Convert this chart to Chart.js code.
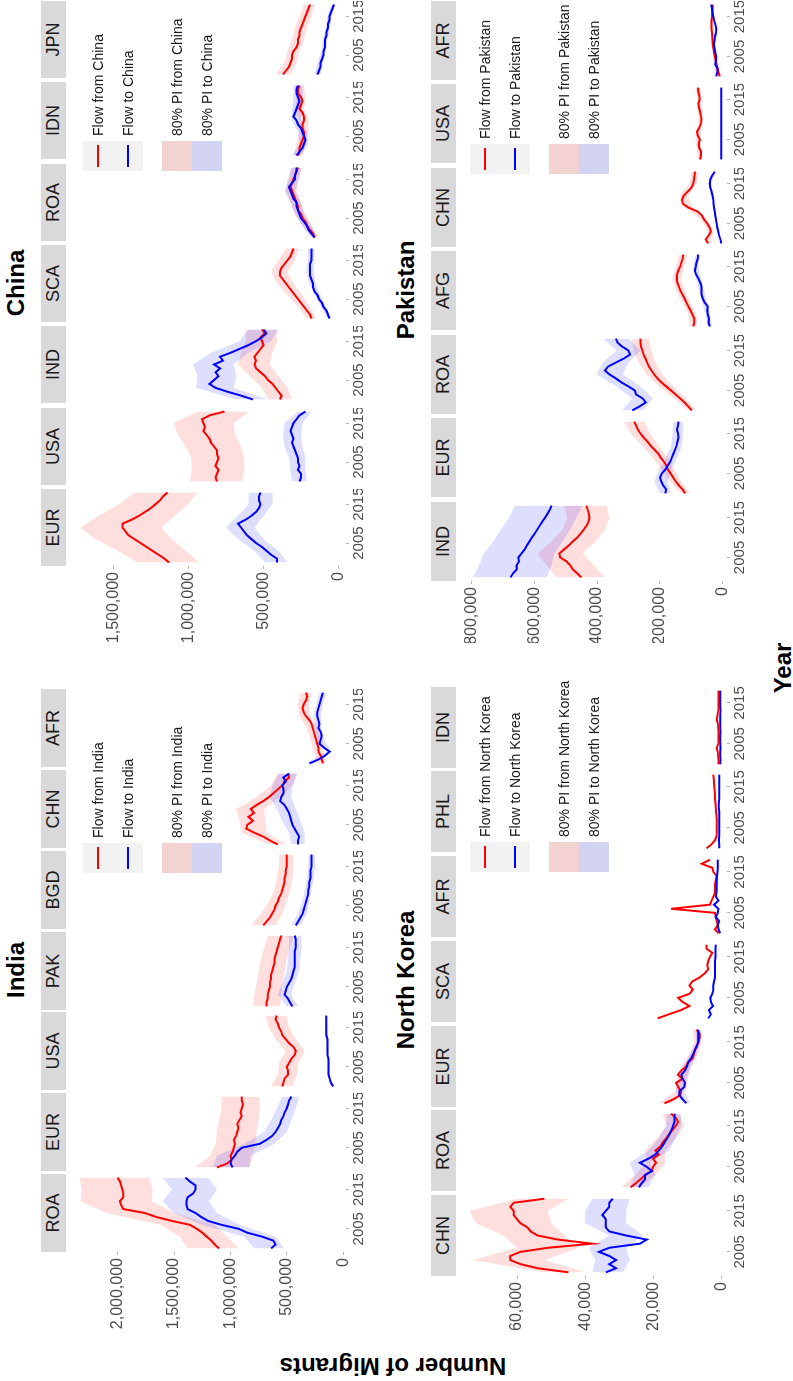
<!DOCTYPE html>
<html>
<head>
<meta charset="utf-8">
<script src="https://cdn.jsdelivr.net/npm/chart.js@4.4.1/dist/chart.umd.min.js"></script>
<style>
  html, body { margin: 0; padding: 0; background: #fff; }
  body { width: 793px; height: 1381px; overflow: hidden; position: relative; }
  /* the figure is laid out landscape and turned a quarter left */
  #fig { position: absolute; left: 0; top: 0; width: 1381px; height: 793px;
         transform-origin: 0 0; transform: translate(0px, 1381px) rotate(-90deg);
         font-family: "Liberation Sans", Arial, sans-serif; }
  .strip { position: absolute; background: #d9d9d9; color: #1a1a1a; font-size: 18px; text-align: center; }
  .title { position: absolute; font-weight: bold; font-size: 24px; color: #000; white-space: nowrap; transform: translate(-50%, -50%); }
  .axtitle { position: absolute; font-weight: bold; font-size: 24px; color: #000; white-space: nowrap; }
  .key { position: absolute; }
  .ltext { position: absolute; font-size: 14px; color: #1a1a1a; white-space: nowrap; }
</style>
</head>
<body>
<div id="fig"></div>
<script>
// years of the series, and the years where the 80% PI edges are read
const years = [2000, 2001, 2002, 2003, 2004, 2005, 2006, 2007, 2008, 2009, 2010, 2011, 2012, 2013, 2014, 2015, 2016, 2017, 2018];
const piYears = [2000, 2003, 2006, 2009, 2012, 2015, 2018];
const yearTicks = [2005, 2015];

// all values in thousands of migrants
// India
const indiaFacets = ['ROA', 'EUR', 'USA', 'PAK', 'BGD', 'CHN', 'AFR'];
const indiaTicks = [0, 500, 1000, 1500, 2000];
const indiaFrom = [
  [1100, 1140, 1170, 1210, 1250, 1300, 1360, 1520, 1660, 1760, 1950, 1970, 1980, 1950, 1950, 1960, 1970, 1980, 2000],
  [1120, 1030, 990, 1000, 980, 970, 960, 970, 950, 940, 930, 940, 920, 900, 910, 900, 890, 900, 900],
  [540, 530, 520, 490, 490, 500, 480, 460, 430, 420, 440, 480, 510, 540, 550, 570, 580, 600, 590],
  [680, 680, 670, 670, 660, 650, 650, 640, 640, 630, 620, 610, 610, 600, 590, 580, 570, 560, 550],
  [710, 680, 650, 630, 610, 600, 580, 570, 550, 540, 530, 520, 520, 510, 510, 500, 500, 500, 500],
  [580, 650, 710, 790, 860, 850, 800, 840, 790, 820, 770, 710, 660, 620, 580, 540, 520, 480, 490],
  [180, 190, 200, 220, 220, 230, 240, 250, 260, 270, 280, 300, 330, 350, 360, 350, 330, 320, 330]
];
const indiaTo = [
  [640, 600, 620, 720, 850, 930, 1080, 1200, 1260, 1310, 1380, 1390, 1390, 1380, 1330, 1310, 1310, 1360, 1400],
  [980, 1000, 990, 960, 940, 900, 740, 680, 630, 600, 580, 560, 550, 530, 520, 500, 490, 480, 460],
  [90, 110, 120, 130, 130, 130, 130, 130, 140, 140, 140, 140, 140, 150, 150, 150, 150, 150, 150],
  [450, 470, 490, 520, 510, 500, 480, 460, 450, 440, 430, 430, 430, 430, 430, 420, 420, 420, 430],
  [420, 400, 380, 360, 350, 340, 330, 320, 310, 310, 300, 300, 290, 290, 290, 280, 280, 280, 280],
  [400, 400, 390, 410, 430, 450, 460, 470, 480, 500, 520, 560, 550, 530, 530, 540, 510, 530, 480],
  [300, 220, 160, 120, 170, 210, 200, 190, 200, 220, 210, 220, 230, 230, 220, 210, 200, 190, 180]
];
const indiaFromLo = [
  [930, 1030, 1140, 1500, 1700, 1690, 1720],
  [830, 800, 780, 770, 750, 740, 740],
  [450, 410, 400, 340, 420, 480, 500],
  [560, 550, 540, 520, 500, 470, 440],
  [600, 540, 500, 470, 450, 440, 440],
  [500, 680, 690, 700, 560, 450, 410],
  [150, 180, 200, 230, 290, 300, 280]
];
const indiaFromHi = [
  [1380, 1450, 1620, 2100, 2330, 2320, 2340],
  [1320, 1180, 1130, 1120, 1100, 1080, 1080],
  [640, 580, 570, 510, 600, 660, 690],
  [800, 790, 770, 750, 730, 700, 670],
  [820, 730, 660, 610, 590, 570, 570],
  [660, 900, 920, 950, 770, 640, 580],
  [220, 260, 290, 320, 390, 400, 380]
];
const indiaToLo = [
  [520, 600, 920, 1120, 1190, 1120, 1200],
  [830, 820, 610, 500, 460, 420, 390],
  [80, 120, 120, 130, 130, 140, 140],
  [400, 460, 430, 390, 380, 370, 370],
  [380, 320, 300, 280, 260, 250, 250],
  [340, 340, 380, 420, 460, 450, 400],
  [270, 100, 170, 190, 200, 180, 150]
];
const indiaToHi = [
  [790, 880, 1260, 1500, 1600, 1520, 1600],
  [1160, 1120, 880, 700, 640, 590, 540],
  [100, 140, 140, 150, 150, 160, 160],
  [500, 580, 540, 500, 490, 480, 480],
  [460, 400, 360, 340, 320, 310, 310],
  [460, 480, 540, 590, 650, 630, 570],
  [330, 150, 230, 250, 260, 240, 210]
];

// China
const chinaFacets = ['EUR', 'USA', 'IND', 'SCA', 'ROA', 'IDN', 'JPN'];
const chinaTicks = [0, 500, 1000, 1500];
const chinaFrom = [
  [1130, 1160, 1200, 1240, 1280, 1320, 1360, 1400, 1420, 1440, 1440, 1380, 1330, 1290, 1250, 1220, 1190, 1170, 1140],
  [810, 820, 810, 800, 820, 810, 800, 810, 810, 830, 850, 860, 880, 900, 890, 900, 910, 860, 760],
  [390, 380, 400, 420, 440, 470, 490, 520, 550, 560, 550, 560, 540, 520, 500, 510, 520, 490, 510],
  [180, 190, 210, 230, 250, 270, 290, 310, 330, 350, 370, 390, 390, 380, 360, 340, 320, 310, 300],
  [160, 170, 190, 210, 220, 240, 250, 270, 270, 280, 290, 300, 310, 320, 310, 300, 290, 280, 270],
  [270, 260, 260, 250, 240, 230, 230, 240, 240, 230, 230, 240, 260, 250, 240, 250, 270, 270, 260],
  [370, 350, 330, 320, 310, 310, 300, 280, 270, 270, 260, 260, 250, 240, 230, 220, 210, 200, 190]
];
const chinaTo = [
  [410, 410, 450, 480, 510, 550, 580, 610, 630, 650, 670, 620, 580, 550, 530, 520, 530, 530, 520],
  [260, 250, 250, 270, 260, 270, 270, 280, 290, 300, 310, 300, 310, 320, 310, 300, 280, 260, 220],
  [570, 650, 740, 820, 860, 830, 800, 820, 790, 830, 770, 790, 720, 660, 600, 550, 510, 480, 500],
  [60, 70, 80, 100, 110, 130, 140, 160, 170, 170, 180, 190, 190, 190, 190, 180, 180, 180, 180],
  [160, 180, 200, 210, 230, 250, 260, 270, 280, 280, 300, 310, 320, 330, 310, 290, 290, 280, 280],
  [280, 260, 240, 230, 220, 230, 240, 250, 270, 280, 300, 290, 280, 270, 260, 270, 280, 280, 270],
  [140, 130, 120, 120, 110, 100, 100, 90, 90, 90, 80, 80, 70, 70, 60, 60, 50, 40, 30]
];
const chinaFromLo = [
  [930, 1020, 1110, 1180, 1090, 1000, 940],
  [640, 630, 630, 650, 690, 700, 590],
  [310, 340, 400, 460, 440, 410, 410],
  [150, 190, 240, 300, 340, 290, 260],
  [140, 180, 220, 250, 280, 270, 240],
  [240, 220, 200, 200, 230, 220, 230],
  [320, 280, 260, 230, 210, 180, 160]
];
const chinaFromHi = [
  [1340, 1470, 1620, 1720, 1600, 1460, 1360],
  [990, 980, 980, 1020, 1070, 1100, 940],
  [470, 510, 590, 670, 650, 620, 620],
  [210, 270, 340, 410, 450, 400, 350],
  [180, 240, 290, 320, 350, 340, 310],
  [300, 280, 260, 260, 290, 280, 290],
  [420, 360, 340, 310, 290, 260, 230]
];
const chinaToLo = [
  [340, 400, 500, 560, 500, 440, 440],
  [210, 220, 220, 240, 250, 240, 180],
  [470, 700, 680, 700, 600, 450, 400],
  [50, 85, 120, 150, 165, 160, 160],
  [140, 180, 230, 250, 290, 260, 250],
  [250, 200, 210, 250, 250, 240, 240],
  [120, 100, 85, 75, 55, 45, 20]
];
const chinaToHi = [
  [490, 560, 670, 750, 670, 600, 600],
  [310, 320, 330, 360, 370, 360, 270],
  [680, 950, 940, 970, 850, 660, 600],
  [75, 115, 160, 195, 215, 205, 205],
  [180, 240, 290, 320, 360, 330, 320],
  [310, 260, 270, 310, 310, 300, 300],
  [160, 140, 115, 105, 85, 75, 45]
];

// North Korea
const nkFacets = ['CHN', 'ROA', 'EUR', 'SCA', 'AFR', 'PHL', 'IDN'];
const nkTicks = [0, 20, 40, 60];
const nkFrom = [
  [45, 54, 59, 62, 62, 59, 51, 38, 48, 54, 56, 57, 59, 60, 61, 61, 62, 61, 52],
  [26.7, 25.2, 23.8, 22.5, 20.5, 20.2, 19.3, 20.2, 18.5, 19.5, 18.0, 17.3, 16.3, 15.5, 14.5, 13.5, 12.8, 13.5, 14.9],
  [16.8, 14.2, 12.2, 12.0, 12.8, 13.4, 11.5, 12.9, 11.9, 10.5, 9.9, 8.6, 8.2, 7.9, 7.3, 6.9, 6.5, 6.5, 7.4],
  [18.8, 15.5, 12.0, 9.5, 11.5, 12.8, 9.5, 8.5, 9.5, 8.7, 6.5, 5.0, 4.0, 4.3, 4.0, 3.5, 2.8, 4.5, 4.5],
  [1.0, 2.0, 1.2, 1.5, 1.8, 2.0, 14.9, 3.5, 3.0, 2.5, 2.0, 2.0, 2.0, 1.8, 1.5, 2.5, 2.8, 5.9, 3.5],
  [4.5, 3.0, 2.0, 1.6, 1.5, 1.5, 1.5, 1.5, 1.6, 1.7, 1.8, 1.9, 2.0, 2.0, 2.1, 2.2, 2.3, 2.4, 2.5],
  [1.0, 1.0, 1.1, 1.2, 1.5, 1.1, 1.0, 1.0, 1.0, 1.1, 1.2, 1.5, 1.3, 1.1, 1.0, 1.0, 1.0, 1.0, 1.0]
];
const nkTo = [
  [34, 31, 33, 31, 33, 36, 33, 24, 22, 28, 33, 34, 34, 34, 35, 34, 33, 33, 32],
  [24.3, 23.5, 22.5, 22.5, 20.5, 22.0, 24.0, 21.5, 19.5, 18.5, 17.5, 16.8, 16.0, 15.3, 14.8, 14.3, 13.9, 13.9, 13.9],
  [10.4, 11.5, 12.5, 12.4, 11.0, 10.8, 11.5, 11.9, 10.8, 10.2, 9.9, 9.0, 8.4, 7.9, 7.4, 6.9, 6.9, 6.9, 6.9],
  [4.0, 3.2, 3.8, 2.6, 3.2, 3.4, 2.8, 2.5, 2.5, 2.3, 2.0, 2.0, 2.0, 2.0, 2.0, 1.9, 1.9, 1.9, 1.8],
  [0.5, 1.0, 1.2, 0.8, 1.8, 1.2, 1.0, 2.3, 1.0, 1.8, 1.6, 1.5, 1.5, 1.5, 1.4, 1.3, 1.2, 1.2, 1.2],
  [0.8, 0.8, 0.9, 0.8, 0.8, 0.8, 0.8, 0.8, 0.8, 0.8, 0.9, 0.9, 0.8, 0.8, 0.8, 0.8, 0.8, 0.8, 0.8],
  [0.5, 0.4, 0.5, 0.5, 0.4, 0.5, 0.5, 0.5, 0.4, 0.5, 0.5, 0.5, 0.5, 0.4, 0.5, 0.5, 0.5, 0.5, 0.5]
];
// bands too thin to see are left out (null)
const nkFromLo = [
  [40, 52, 42, 46, 50, 51, 45],
  [24, 19.5, 16.5, 16.5, 13.5, 11, 12.5],
  [15, 10.5, 10, 9, 7, 6, 6.3],
  null, null, null, null
];
const nkFromHi = [
  [52, 73, 60, 64, 72, 74, 60],
  [29.5, 25.5, 22, 22.5, 19, 16, 17.5],
  [18.5, 13.5, 13, 12, 9.5, 8, 8.5],
  null, null, null, null
];
const nkToLo = [
  [29, 27, 28, 23, 28, 28, 27],
  [21.5, 19.5, 21, 15.5, 13.5, 12, 12],
  [9.3, 11.2, 10.3, 9.1, 7.5, 6.2, 6.2],
  null, null, null, null
];
const nkToHi = [
  [38, 37, 39, 33, 40, 40, 38],
  [27, 25.5, 27, 21.5, 18.5, 16.5, 16],
  [11.5, 13.6, 12.7, 11.3, 9.3, 7.6, 7.6],
  null, null, null, null
];

// Pakistan
const pakFacets = ['IND', 'EUR', 'ROA', 'AFG', 'CHN', 'USA', 'AFR'];
const pakTicks = [0, 200, 400, 600, 800];
const pakFrom = [
  [450, 463, 477, 485, 497, 517, 520, 505, 490, 477, 463, 452, 442, 433, 427, 424, 426, 430, 434],
  [120, 128, 140, 150, 158, 166, 175, 180, 188, 198, 206, 218, 230, 240, 252, 262, 270, 276, 282],
  [99, 110, 122, 136, 150, 165, 180, 195, 208, 218, 227, 235, 241, 246, 252, 256, 260, 262, 262],
  [94, 91, 91, 97, 103, 110, 116, 122, 129, 135, 140, 145, 147, 146, 142, 136, 132, 128, 126],
  [47, 55, 45, 38, 42, 50, 60, 67, 80, 110, 128, 130, 124, 112, 100, 94, 92, 90, 89],
  [73, 70, 70, 76, 77, 73, 80, 82, 75, 70, 68, 70, 73, 76, 78, 74, 75, 78, 79],
  [10, 14, 17, 20, 23, 26, 28, 30, 32, 33, 34, 35, 36, 36, 36, 35, 34, 33, 32]
];
const pakTo = [
  [675, 667, 655, 656, 648, 650, 640, 630, 623, 615, 607, 598, 590, 582, 574, 565, 557, 550, 544],
  [183, 180, 190, 196, 200, 194, 183, 175, 167, 162, 157, 152, 147, 144, 141, 143, 146, 143, 141],
  [288, 265, 245, 255, 276, 280, 300, 322, 340, 360, 375, 365, 340, 315, 295, 300, 320, 335, 340],
  [42, 46, 44, 48, 50, 48, 58, 64, 68, 68, 68, 72, 78, 85, 89, 86, 84, 80, 79],
  [5, 8, 12, 15, 18, 20, 22, 24, 26, 28, 30, 31, 33, 36, 40, 42, 40, 34, 26],
  [5, 5, 5, 5, 5, 5, 5, 5, 5, 5, 5, 5, 5, 5, 5, 5, 5, 5, 5],
  [21, 18, 17, 24, 22, 21, 24, 27, 29, 27, 25, 22, 21, 24, 28, 31, 33, 35, 37]
];
const pakFromLo = [
  [375, 410, 445, 405, 375, 360, 370],
  [105, 132, 155, 175, 205, 232, 250],
  [85, 118, 158, 193, 215, 228, 234],
  [82, 85, 103, 121, 133, 122, 113],
  [38, 30, 50, 97, 111, 82, 78],
  [66, 69, 72, 63, 66, 67, 71],
  [7, 16, 24, 29, 32, 31, 28]
];
const pakFromHi = [
  [530, 560, 590, 545, 510, 495, 505],
  [135, 168, 195, 222, 257, 292, 315],
  [113, 154, 202, 243, 268, 284, 290],
  [106, 109, 129, 149, 161, 150, 139],
  [56, 46, 70, 123, 137, 106, 100],
  [80, 83, 88, 77, 80, 81, 87],
  [13, 24, 32, 37, 40, 39, 36]
];
const pakToLo = [
  [560, 545, 535, 510, 485, 465, 445],
  [165, 175, 163, 145, 130, 127, 125],
  [255, 222, 262, 318, 300, 262, 300],
  [35, 41, 50, 60, 70, 78, 71],
  [3, 12, 19, 25, 29, 38, 22],
  null,
  [18, 20, 20, 23, 17, 27, 33]
];
const pakToHi = [
  [795, 775, 760, 730, 705, 680, 660],
  [200, 217, 203, 180, 164, 160, 158],
  [320, 288, 338, 402, 382, 338, 380],
  [49, 55, 66, 76, 86, 94, 87],
  [7, 18, 25, 31, 37, 46, 30],
  null,
  [24, 28, 28, 31, 25, 35, 41]
];

const FONT = '"Liberation Sans", Arial, sans-serif';
const RED = '#ff0000', BLUE = '#0000ff';
const PINK = 'rgba(255,0,0,0.13)', LAV = 'rgba(0,0,255,0.13)';
const TICKCOL = '#4d4d4d';
const XH = 24; // height kept for the year labels under each facet

let fig = document.getElementById('fig');

function addDiv(cls, text, css) {
    let d = document.createElement('div');
    d.className = cls;
    if (text) d.textContent = text;
    Object.assign(d.style, css);
    fig.appendChild(d);
    return d;
}

function points(xs, ys) {
    return xs.map((x, k) => ({ x: x, y: ys[k] }));
}

function band(lo, hi, color, order) {
    return [
        { data: points(piYears, lo), borderWidth: 0, borderColor: 'rgba(0,0,0,0)', pointRadius: 0, fill: false, order: order },
        { data: points(piYears, hi), borderWidth: 0, borderColor: 'rgba(0,0,0,0)', pointRadius: 0, fill: '-1', backgroundColor: color, order: order }
    ];
}

function facetChart(p, i, x) {
    let first = i === 0;
    let yw = first ? p.yw : 0;
    let w = p.width + yw, h = p.height + XH;
    let cv = document.createElement('canvas');
    cv.width = w;
    cv.height = h;
    Object.assign(cv.style, { position: 'absolute', left: (x - yw) + 'px', top: p.top + 'px', width: w + 'px', height: h + 'px' });
    fig.appendChild(cv);

    let datasets = [];
    if (p.fromLo[i]) datasets.push(...band(p.fromLo[i], p.fromHi[i], PINK, 3));
    if (p.toLo[i]) datasets.push(...band(p.toLo[i], p.toHi[i], LAV, 2));
    datasets.push({ data: points(years, p.from[i]), borderColor: RED, borderWidth: 2, pointRadius: 0, fill: false, order: 1 });
    datasets.push({ data: points(years, p.to[i]), borderColor: BLUE, borderWidth: 2, pointRadius: 0, fill: false, order: 0 });

    new Chart(cv, {
        type: 'line',
        data: { datasets: datasets },
        options: {
            responsive: false,
            animation: false,
            devicePixelRatio: 1,
            layout: { padding: 0, autoPadding: false },
            plugins: { legend: { display: false }, tooltip: { enabled: false } },
            elements: { line: { tension: 0 } },
            scales: {
                x: {
                    type: 'linear',
                    min: 1999.1,
                    max: 2018.9,
                    afterBuildTicks: s => { s.ticks = yearTicks.map(v => ({ value: v })); },
                    afterFit: s => { s.height = XH; s.paddingLeft = 0; s.paddingRight = 0; },
                    ticks: { callback: v => String(v), color: TICKCOL, font: { family: FONT, size: 15 }, padding: 1, autoSkip: false, maxRotation: 0, minRotation: 0 },
                    grid: { drawOnChartArea: false, drawTicks: true, tickLength: 3, color: '#b3b3b3' },
                    border: { display: false }
                },
                y: {
                    display: first,
                    min: p.yMin,
                    max: p.yMax,
                    afterBuildTicks: s => { s.ticks = p.ticks.map(v => ({ value: v })); },
                    afterFit: s => {
                        s.width = first ? p.yw : 0;
                        s.paddingTop = 0;
                        s.paddingBottom = 0;
                    },
                    ticks: { callback: v => (v * 1000).toLocaleString('en-US'), color: TICKCOL, font: { family: FONT, size: 16 }, padding: 3 },
                    grid: { drawOnChartArea: false, drawTicks: true, tickLength: 3, color: '#b3b3b3' },
                    border: { display: false }
                }
            }
        }
    });
}

function legend(p) {
    let kw = 30, kh = 30;
    // line keys
    [[RED, 'Flow from '], [BLUE, 'Flow to ']].forEach((item, k) => {
        let y = p.legY + k * kh;
        addDiv('key', '', { left: p.legX + 'px', top: y + 'px', width: kw + 'px', height: kh + 'px', background: '#f2f2f2' });
        addDiv('key', '', { left: (p.legX + 4) + 'px', top: (y + kh / 2 - 1) + 'px', width: (kw - 8) + 'px', height: '2px', background: item[0] });
        addDiv('ltext', item[1] + p.name, { left: (p.legX + kw + 5) + 'px', top: y + 'px', height: kh + 'px', lineHeight: kh + 'px' });
    });
    // ribbon keys
    [[PINK, '80% PI from '], [LAV, '80% PI to ']].forEach((item, k) => {
        let y = p.legY + 79 + k * kh;
        addDiv('key', '', { left: p.legX + 'px', top: y + 'px', width: kw + 'px', height: kh + 'px', background: '#f2f2f2' });
        addDiv('key', '', { left: p.legX + 'px', top: y + 'px', width: kw + 'px', height: kh + 'px', background: item[0] });
        addDiv('ltext', item[1] + p.name, { left: (p.legX + kw + 5) + 'px', top: y + 'px', height: kh + 'px', lineHeight: kh + 'px' });
    });
}

function drawPanel(p) {
    addDiv('title', p.name, { left: p.titleX + 'px', top: p.titleY + 'px' });
    p.facets.forEach((lab, i) => {
        let x = Math.round(p.left + i * p.pitch);
        addDiv('strip', lab, { left: x + 'px', top: p.stripTop + 'px', width: p.width + 'px', height: '25px', lineHeight: '25px' });
        facetChart(p, i, x);
    });
    legend(p);
}

let panels = [
    { name: 'India', facets: indiaFacets, from: indiaFrom, to: indiaTo, fromLo: indiaFromLo, fromHi: indiaFromHi, toLo: indiaToLo, toHi: indiaToHi, ticks: indiaTicks,
      left: 129, pitch: 80.8, width: 78, top: 67, height: 279, stripTop: 41, yMin: -25, yMax: 2450, yw: 80,
      titleX: 411, titleY: 16, legX: 508, legY: 83 },
    { name: 'China', facets: chinaFacets, from: chinaFrom, to: chinaTo, fromLo: chinaFromLo, fromHi: chinaFromHi, toLo: chinaToLo, toHi: chinaToHi, ticks: chinaTicks,
      left: 815, pitch: 81.3, width: 77, top: 67, height: 279, stripTop: 41, yMin: -50, yMax: 1810, yw: 80,
      titleX: 1098, titleY: 16, legX: 1210, legY: 83 },
    { name: 'North Korea', facets: nkFacets, from: nkFrom, to: nkTo, fromLo: nkFromLo, fromHi: nkFromHi, toLo: nkToLo, toHi: nkToHi, ticks: nkTicks,
      left: 105, pitch: 84.7, width: 81, top: 457, height: 270, stripTop: 431, yMin: -1.5, yMax: 77.6, yw: 62,
      titleX: 401, titleY: 406, legX: 509, legY: 470 },
    { name: 'Pakistan', facets: pakFacets, from: pakFrom, to: pakTo, fromLo: pakFromLo, fromHi: pakFromHi, toLo: pakToLo, toHi: pakToHi, ticks: pakTicks,
      left: 800, pitch: 83.5, width: 79, top: 457, height: 270, stripTop: 431, yMin: -13, yMax: 845, yw: 62,
      titleX: 1091, titleY: 406, legX: 1207, legY: 470 }
];

panels.forEach(drawPanel);

// shared axis titles
addDiv('axtitle', 'Number of Migrants', { left: '15px', top: '393px', transform: 'translate(-50%, -50%) rotate(-90deg)' });
addDiv('axtitle', 'Year', { left: '713px', top: '783px', transform: 'translate(-50%, -50%)' });
</script>
</body>
</html>
